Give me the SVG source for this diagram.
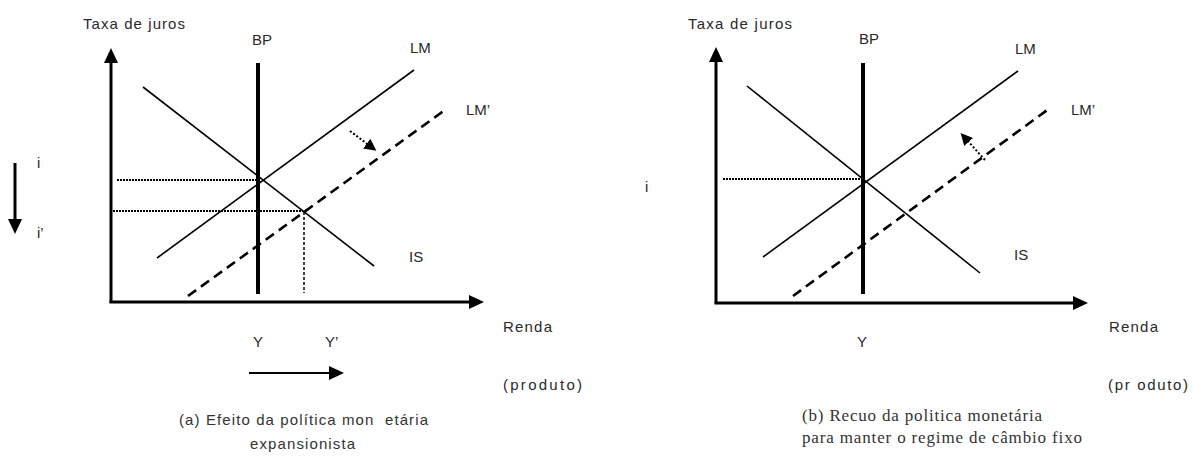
<svg xmlns="http://www.w3.org/2000/svg" width="1193" height="456" viewBox="0 0 1193 456">
<style>
  .lbl { font-family: "Liberation Sans", Arial, sans-serif; font-size: 15px; fill: #2a2a2a; }
  .cap { font-family: "Liberation Sans", Arial, sans-serif; font-size: 15px; fill: #333; }
  .capb { font-family: "Liberation Serif", "Times New Roman", serif; font-size: 17px; fill: #333; }
  .axis { stroke: #000; stroke-width: 3; fill: none; }
  .bp { stroke: #000; stroke-width: 4; fill: none; }
  .curve { stroke: #000; stroke-width: 1.6; fill: none; }
  .dash { stroke: #000; stroke-width: 2.6; fill: none; stroke-dasharray: 10 6; }
  .dot { stroke: #000; stroke-width: 2; fill: none; stroke-dasharray: 2 1; }
  .dotv { stroke: #000; stroke-width: 1.5; fill: none; stroke-dasharray: 3 2; }
  .shift { stroke: #000; stroke-width: 2; fill: none; stroke-dasharray: 2 2; }
  .thin { stroke: #000; stroke-width: 2; fill: none; }
</style>
<defs>
  <marker id="ah" markerUnits="userSpaceOnUse" markerWidth="15" markerHeight="14" refX="5" refY="7" orient="auto">
    <path d="M0,0 L15,7 L0,14 z" fill="#000"/>
  </marker>
  <marker id="ahs" markerUnits="userSpaceOnUse" markerWidth="12" markerHeight="12" refX="4" refY="6" orient="auto">
    <path d="M0,0 L12,6 L0,12 z" fill="#000"/>
  </marker>
</defs>
<rect width="1193" height="456" fill="#fff"/>

<!-- Panel (a) -->
<g id="panel-a">
  <g id="a-axes">
    <line class="axis" x1="111" y1="303" x2="111" y2="58" marker-end="url(#ah)"/>
    <line class="axis" x1="109.5" y1="302" x2="474" y2="302" marker-end="url(#ah)"/>
    <text class="lbl" x="83" y="29" textLength="102">Taxa de juros</text>
    <text class="lbl" x="503" y="332" textLength="49">Renda</text>
    <text class="lbl" x="503" y="390" textLength="79">(produto)</text>
  </g>
  <g id="a-bp">
    <line class="bp" x1="258" y1="63" x2="258" y2="294"/>
    <text class="lbl" x="252" y="45">BP</text>
  </g>
  <g id="a-is">
    <line class="curve" x1="143" y1="87" x2="374" y2="266"/>
    <text class="lbl" x="409" y="262">IS</text>
  </g>
  <g id="a-lm">
    <line class="curve" x1="157" y1="258" x2="414" y2="70"/>
    <text class="lbl" x="410" y="53">LM</text>
  </g>
  <g id="a-lm2">
    <line class="dash" x1="188" y1="296" x2="445" y2="110"/>
    <text class="lbl" x="466" y="115">LM’</text>
  </g>
  <g id="a-levels">
    <text class="lbl" x="37" y="168">i</text>
    <text class="lbl" x="37" y="238">i’</text>
    <text class="lbl" x="253" y="347">Y</text>
    <text class="lbl" x="325" y="347">Y’</text>
  </g>
  <g id="a-caption">
    <text class="cap" x="179" y="425" textLength="249" xml:space="preserve">(a) Efeito da política mon  etária</text>
    <text class="cap" x="250" y="449" textLength="105">expansionista</text>
  </g>
</g>

<!-- Panel (b) -->
<g id="panel-b">
  <g id="b-axes">
    <line class="axis" x1="716" y1="303" x2="716" y2="57" marker-end="url(#ah)"/>
    <line class="axis" x1="714.5" y1="303" x2="1078" y2="303" marker-end="url(#ah)"/>
    <text class="lbl" x="688" y="29" textLength="104">Taxa de juros</text>
    <text class="lbl" x="1109" y="332" textLength="49">Renda</text>
    <text class="lbl" x="1108" y="390" textLength="80">(pr oduto)</text>
  </g>
  <g id="b-bp">
    <line class="bp" x1="863" y1="63" x2="863" y2="294"/>
    <text class="lbl" x="859" y="44">BP</text>
  </g>
  <g id="b-is">
    <line class="curve" x1="747" y1="86" x2="980" y2="273"/>
    <text class="lbl" x="1014" y="260">IS</text>
  </g>
  <g id="b-lm">
    <line class="curve" x1="763" y1="257" x2="1018" y2="71"/>
    <text class="lbl" x="1015" y="54">LM</text>
  </g>
  <g id="b-lm2">
    <line class="dash" x1="793" y1="296" x2="1050" y2="108"/>
    <text class="lbl" x="1071" y="115">LM’</text>
  </g>
  <g id="b-levels">
    <text class="lbl" x="645" y="192">i</text>
    <text class="lbl" x="857" y="347">Y</text>
  </g>
  <g id="b-caption">
    <text class="capb" x="802" y="421" textLength="240">(b) Recuo da politica monetária</text>
    <text class="capb" x="802" y="443" textLength="280">para manter o regime de câmbio fixo</text>
  </g>
</g>

<!-- Connectors -->
<g id="connectors">
  <line class="dot" x1="117" y1="180" x2="258" y2="180"/>
  <line class="dot" x1="113" y1="211" x2="303" y2="211"/>
  <line class="dotv" x1="304" y1="212" x2="304" y2="293"/>
  <line class="shift" x1="350" y1="131" x2="370" y2="146" marker-end="url(#ahs)"/>
  <line class="thin" x1="249" y1="373" x2="334" y2="373" marker-end="url(#ah)"/>
  <line class="axis" x1="15" y1="163" x2="15" y2="224" marker-end="url(#ah)"/>
  <line class="dot" x1="723" y1="179" x2="863" y2="179"/>
  <line class="shift" x1="985" y1="160" x2="966" y2="139" marker-end="url(#ahs)"/>
</g>
</svg>
